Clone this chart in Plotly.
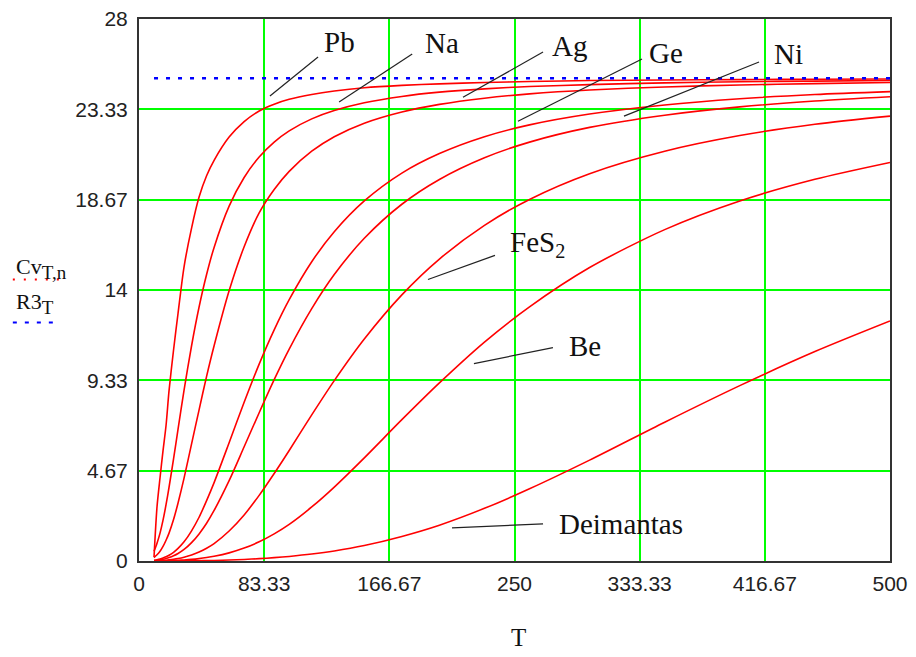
import plotly.graph_objects as go

# Temperature samples (K)
T = [10, 12, 14, 16, 18, 20, 23, 26, 30, 35, 40, 45, 50, 60, 70, 80, 90, 100,
     115, 130, 150, 175, 200, 230, 260, 300, 350, 400, 450, 500]

# Heat capacity values (J/(mol K))
cv_pb = [0.2, 2.8, 4.3, 5.7, 7.0, 8.8, 10.9, 12.8, 15.2, 17.2, 18.8, 19.9, 20.7, 21.9,
         22.7, 23.25, 23.6, 23.85, 24.1, 24.28, 24.45, 24.57, 24.65, 24.72, 24.77,
         24.82, 24.85, 24.87, 24.89, 24.9]
cv_na = [0.5, 0.92, 1.44, 2.11, 2.91, 3.81, 5.28, 6.81, 8.83, 11.12, 13.12, 14.8, 16.2,
         18.33, 19.81, 20.87, 21.64, 22.22, 22.84, 23.27, 23.67, 24.0, 24.22, 24.39,
         24.51, 24.61, 24.7, 24.76, 24.79, 24.82]
cv_ag = [0.18, 0.32, 0.5, 0.75, 1.07, 1.44, 2.14, 3.0, 4.28, 6.05, 7.81, 9.54, 11.12,
         13.96, 16.23, 17.98, 19.19, 20.13, 21.17, 21.92, 22.62, 23.2, 23.59, 23.91,
         24.13, 24.33, 24.49, 24.59, 24.66, 24.72]
cv_ge = [0.037, 0.064, 0.101, 0.151, 0.215, 0.295, 0.45, 0.65, 0.99, 1.56, 2.26, 3.12,
         4.05, 6.11, 8.2, 10.17, 11.94, 13.5, 15.46, 17.01, 18.6, 20.04, 21.05, 21.92,
         22.53, 23.09, 23.56, 23.88, 24.1, 24.25]
cv_ni = [0.022, 0.038, 0.061, 0.09, 0.129, 0.176, 0.268, 0.387, 0.596, 0.95, 1.4, 1.95,
         2.61, 4.15, 5.9, 7.66, 9.37, 10.95, 13.04, 14.8, 16.67, 18.43, 19.71, 20.83,
         21.64, 22.4, 23.03, 23.46, 23.76, 23.98]
cv_fes2 = [0.007, 0.0125, 0.02, 0.03, 0.042, 0.058, 0.088, 0.127, 0.196, 0.31, 0.464,
           0.66, 0.9, 1.55, 2.38, 3.39, 4.52, 5.71, 7.55, 9.32, 11.47, 13.75, 15.6,
           17.34, 18.68, 20.01, 21.17, 21.98, 22.56, 22.98]
cv_be = [0.002, 0.003, 0.005, 0.008, 0.011, 0.016, 0.024, 0.034, 0.053, 0.083, 0.124,
         0.177, 0.243, 0.42, 0.667, 0.99, 1.4, 1.89, 2.79, 3.82, 5.33, 7.3, 9.2, 11.31,
         13.13, 15.16, 17.12, 18.6, 19.72, 20.59]
cv_di = [0.0, 0.0, 0.0, 0.0, 0.0, 0.0, 0.003, 0.004, 0.006, 0.01, 0.015, 0.021, 0.029,
         0.051, 0.081, 0.121, 0.172, 0.236, 0.358, 0.518, 0.8, 1.27, 1.85, 2.72, 3.73,
         5.21, 7.17, 9.06, 10.82, 12.4]

# 3R limit
T_r3 = [10, 500]
r3 = [24.94, 24.94]

series = [cv_pb, cv_na, cv_ag, cv_ge, cv_ni, cv_fes2, cv_be, cv_di]
names = ["Pb", "Na", "Ag", "Ge", "Ni", "FeS2", "Be", "Deimantas"]

# tick definitions
x_ticks = [0, 500 / 6, 1000 / 6, 250, 2000 / 6, 2500 / 6, 500]
x_ticktext = ["0", "83.33", "166.67", "250", "333.33", "416.67", "500"]
y_ticks = [0, 28 / 6, 56 / 6, 14, 112 / 6, 140 / 6, 28]
y_ticktext = ["0", "4.67", "9.33", "14", "18.67", "23.33", "28"]

# label texts, positions and leader lines (data coordinates)
labels = ["Pb", "Na", "Ag", "Ge", "Ni", "FeS<sub>2</sub>", "Be", "Deimantas"]
label_pos = [(121.8, 26.8), (189.1, 26.75), (273.6, 26.6), (338.2, 26.24),
             (421.4, 26.19), (245.7, 16.4), (285.0, 11.13), (278.3, 1.92)]
leaders = [((87.2, 24.02), (119.2, 26.04)),
           ((133.2, 23.71), (181.9, 26.19)),
           ((215.7, 23.96), (269.0, 26.29)),
           ((252.3, 22.72), (334.9, 25.93)),
           ((322.9, 22.98), (412.8, 25.78)),
           ((192.4, 14.54), (237.0, 15.79)),
           ((223.0, 10.2), (275.6, 11.02)),
           ((208.4, 1.71), (269.0, 1.92))]

fig = go.Figure()
for name, vals in zip(names, series):
    fig.add_trace(go.Scatter(x=T, y=vals, mode="lines", name=name,
                             line=dict(color="#FF0000", width=1.6, shape="spline", smoothing=0.8),
                             showlegend=False, hoverinfo="x+y+name"))
fig.add_trace(go.Scatter(x=T_r3, y=r3, mode="lines", name="R3",
                         line=dict(color="#0000FF", width=2.5, dash="4px,8px"),
                         showlegend=False))

serif = "Liberation Serif, Times New Roman, serif"
annotations = []
for txt, (lx, ly) in zip(labels, label_pos):
    annotations.append(dict(x=lx, y=ly, xref="x", yref="y", text=txt, showarrow=False,
                            xanchor="left", yanchor="middle",
                            font=dict(family=serif, size=29, color="#111")))
# axis title and legend texts
annotations.append(dict(x=0.5047, y=-0.142, xref="paper", yref="paper", text="T",
                        showarrow=False, xanchor="center", yanchor="middle",
                        font=dict(family=serif, size=25, color="#111")))
annotations.append(dict(x=-0.166, y=0.54, xref="paper", yref="paper",
                        text="Cv<sub><span style='font-size:19px'>T,n</span></sub>",
                        showarrow=False, xanchor="left",
                        yanchor="middle", font=dict(family=serif, size=22, color="#111")))
annotations.append(dict(x=-0.166, y=0.475, xref="paper", yref="paper",
                        text="R3<sub><span style='font-size:19px'>T</span></sub>",
                        showarrow=False, xanchor="left",
                        yanchor="middle", font=dict(family=serif, size=22, color="#111")))

shapes = [
    dict(type="line", xref="paper", yref="paper", x0=-0.168, x1=-0.1025, y0=0.5194, y1=0.5194,
         line=dict(color="#FF0000", width=2, dash="2px,9px")),
    dict(type="line", xref="paper", yref="paper", x0=-0.168, x1=-0.1145, y0=0.4399, y1=0.4399,
         line=dict(color="#0000FF", width=2, dash="4px,8px")),
]
for (p0, p1) in leaders:
    shapes.append(dict(type="line", xref="x", yref="y", x0=p0[0], y0=p0[1], x1=p1[0], y1=p1[1],
                       line=dict(color="#222", width=1.2)))

axis_common = dict(showgrid=True, gridcolor="#00FF00", gridwidth=2, zeroline=False,
                   showline=True, linecolor="#333", linewidth=2, mirror=True,
                   ticks="", automargin=False,
                   tickfont=dict(family="Liberation Sans, Arial, sans-serif",
                                 size=21, color="#222"))
fig.update_layout(
    width=916, height=657,
    margin=dict(l=139, r=26, t=19, b=96),
    paper_bgcolor="white", plot_bgcolor="white",
    xaxis=dict(range=[0, 500], tickvals=x_ticks, ticktext=x_ticktext,
               ticklabelstandoff=3, **axis_common),
    yaxis=dict(range=[0, 28], tickvals=y_ticks, ticktext=y_ticktext,
               ticklabelstandoff=5, **axis_common),
    annotations=annotations, shapes=shapes,
)
fig.write_html("out.html")
